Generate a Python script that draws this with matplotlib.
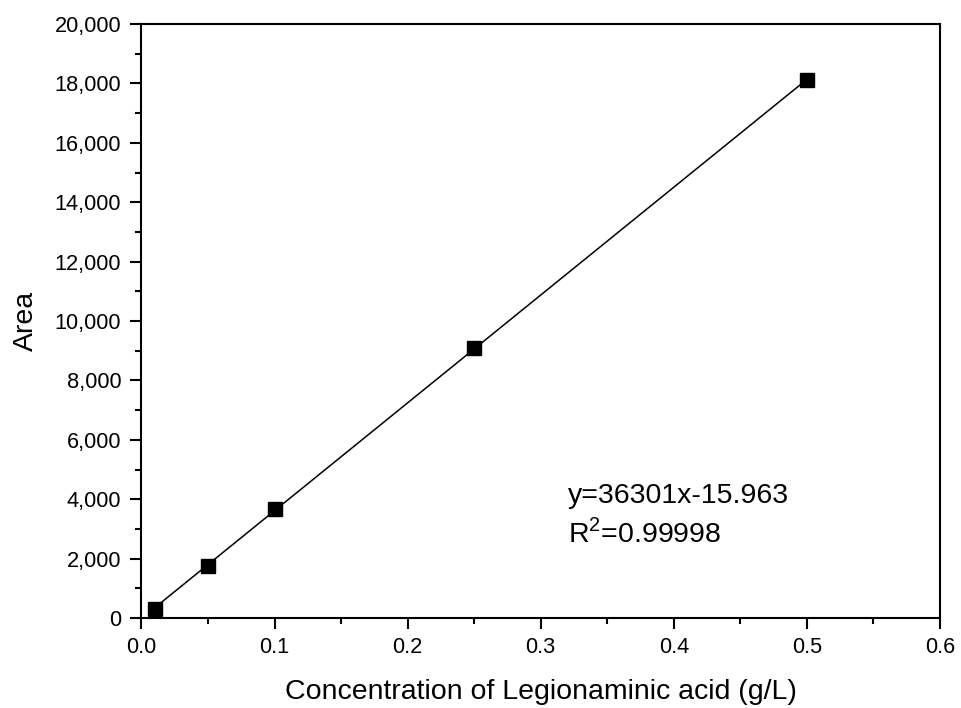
import matplotlib
matplotlib.use("Agg")
import matplotlib.pyplot as plt
from matplotlib.ticker import MultipleLocator, FuncFormatter
import numpy as np

plt.rcParams['font.family'] = ['Liberation Sans', 'DejaVu Sans']
plt.rcParams['mathtext.fontset'] = 'custom'
plt.rcParams['mathtext.rm'] = 'Liberation Sans'

concentration = [0.01, 0.05, 0.1, 0.25, 0.5]
area = [300, 1760, 3670, 9090, 18110]
slope = 36301
intercept = -15.963
r_squared = "0.99998"

fig = plt.figure(figsize=(9.61, 7.08), dpi=100)
ax = fig.add_axes([0.1472, 0.1271, 0.8309, 0.8390])

xfit = np.array([concentration[0], concentration[-1]])
ax.plot(xfit, slope * xfit + intercept, color='black', lw=1.1, zorder=2)
ax.plot(concentration, area, 's', color='black', markersize=9.5, zorder=3)

ax.set_xlim(0, 0.6)
ax.set_ylim(0, 20000)
ax.xaxis.set_major_locator(MultipleLocator(0.1))
ax.xaxis.set_minor_locator(MultipleLocator(0.05))
ax.yaxis.set_major_locator(MultipleLocator(2000))
ax.yaxis.set_minor_locator(MultipleLocator(1000))
ax.xaxis.set_major_formatter(FuncFormatter(lambda v, p: f"{v:.1f}"))
ax.yaxis.set_major_formatter(FuncFormatter(lambda v, p: f"{int(round(v)):,}"))

for s in ax.spines.values():
    s.set_linewidth(1.5)
ax.tick_params(which='major', direction='out', length=8, width=1.5, labelsize=15.7)
ax.tick_params(which='minor', direction='out', length=4.5, width=1.5)
ax.tick_params(axis='x', which='major', pad=5.5)
ax.tick_params(axis='y', which='major', pad=6.5)
ax.tick_params(top=False, right=False)

ax.set_xlabel("Concentration of Legionaminic acid (g/L)", fontsize=20.5, labelpad=15)
ax.set_ylabel("Area", fontsize=20.5, labelpad=11.5)

ax.text(0.3205, 3870, f"y={slope}x{intercept}", fontsize=20.5, ha='left', va='baseline')
ax.text(0.3205, 2560, r"R$^{\mathregular{2}}$=" + r_squared, fontsize=20.5, ha='left', va='baseline')

fig.savefig("out.png", dpi=100)
